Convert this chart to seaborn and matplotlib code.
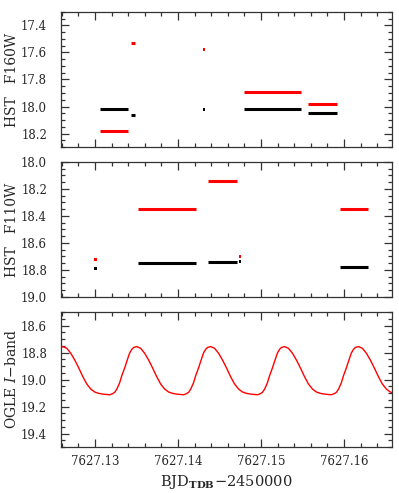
import numpy as np
import pandas as pd
import matplotlib
matplotlib.use("Agg")
import matplotlib.pyplot as plt
import seaborn as sns
from matplotlib.ticker import MultipleLocator, FormatStrFormatter

sns.set_theme(style="ticks")
plt.rcParams["font.family"] = ["DejaVu Serif"]
plt.rcParams["mathtext.fontset"] = "dejavuserif"

BASE = 7627.0  # times below are BJD_TDB - 2457627

# HST F160W exposures: start / end time, black and red magnitudes
f160_start = [0.13060, 0.13434, 0.14313, 0.14799, 0.15570]
f160_end = [0.13401, 0.13486, 0.14313, 0.15486, 0.15912]
f160_black = [18.02, 18.06, 18.025, 18.02, 18.05]
f160_red = [18.18, 17.53, 17.58, 17.89, 17.98]

# HST F110W exposures
f110_start = [0.13008, 0.13522, 0.14365, 0.14747, 0.15952]
f110_end = [0.13008, 0.14213, 0.14707, 0.14747, 0.16293]
f110_black = [18.79, 18.745, 18.74, 18.74, 18.78]
f110_red = [18.72, 18.35, 18.14, 18.70, 18.35]

# OGLE I-band light curve
ogle_dt = [
    0.125264, 0.125529, 0.125770,
    0.126120, 0.126602, 0.127084, 0.127566, 0.128048, 0.128530, 0.129012, 0.129493,
    0.129975, 0.130457, 0.130939, 0.131421, 0.131783, 0.132144, 0.132385, 0.132626,
    0.132963, 0.133228, 0.133566, 0.133831, 0.134168, 0.134433, 0.134674,
    0.135020, 0.135502, 0.135984, 0.136466, 0.136948, 0.137430, 0.137912, 0.138393,
    0.138875, 0.139357, 0.139839, 0.140321, 0.140683, 0.141044, 0.141285, 0.141526,
    0.141863, 0.142128, 0.142466, 0.142731, 0.143068, 0.143333, 0.143574,
    0.143924, 0.144406, 0.144888, 0.145370, 0.145852, 0.146334, 0.146816, 0.147297,
    0.147779, 0.148261, 0.148743, 0.149225, 0.149587, 0.149948, 0.150189, 0.150430,
    0.150767, 0.151032, 0.151370, 0.151635, 0.151972, 0.152237, 0.152478,
    0.152828, 0.153310, 0.153792, 0.154274, 0.154756, 0.155238, 0.155720, 0.156201,
    0.156683, 0.157165, 0.157647, 0.158129, 0.158491, 0.158852, 0.159093, 0.159334,
    0.159671, 0.159936, 0.160274, 0.160539, 0.160876, 0.161141, 0.161382,
    0.161732, 0.162214, 0.162696, 0.163178, 0.163660, 0.164142, 0.164624, 0.165105,
    0.165587, 0.166069,
]
ogle_mag = [
    18.804, 18.776, 18.762,
    18.756, 18.769, 18.806, 18.857, 18.916, 18.979, 19.034, 19.071,
    19.093, 19.103, 19.108, 19.111, 19.113, 19.104, 19.094, 19.071,
    19.025, 18.971, 18.915, 18.865, 18.804, 18.776, 18.762,
    18.756, 18.769, 18.806, 18.857, 18.916, 18.979, 19.034, 19.071,
    19.093, 19.103, 19.108, 19.111, 19.113, 19.104, 19.094, 19.071,
    19.025, 18.971, 18.915, 18.865, 18.804, 18.776, 18.762,
    18.756, 18.769, 18.806, 18.857, 18.916, 18.979, 19.034, 19.071,
    19.093, 19.103, 19.108, 19.111, 19.113, 19.104, 19.094, 19.071,
    19.025, 18.971, 18.915, 18.865, 18.804, 18.776, 18.762,
    18.756, 18.769, 18.806, 18.857, 18.916, 18.979, 19.034, 19.071,
    19.093, 19.103, 19.108, 19.111, 19.113, 19.104, 19.094, 19.071,
    19.025, 18.971, 18.915, 18.865, 18.804, 18.776, 18.762,
    18.756, 18.769, 18.806, 18.857, 18.916, 18.979, 19.034, 19.071,
    19.093, 19.103,
]

COLOURS = {"black": "black", "red": "red"}
XLIM = (BASE + 0.12590, BASE + 0.16578)


def seg_frame(start, end, black, red):
    rows = []
    for i, (s, e, b, r) in enumerate(zip(start, end, black, red)):
        for col, val in (("black", b), ("red", r)):
            for t in (s, e):
                rows.append({"t": BASE + t, "mag": val, "seg": f"{col}{i}",
                             "colour": col, "dot": s == e})
    return pd.DataFrame(rows)


def style_axis(ax, ylim, show_x):
    ax.set_xlim(*XLIM)
    ax.set_ylim(*ylim)
    ax.xaxis.set_major_locator(MultipleLocator(0.01))
    ax.xaxis.set_minor_locator(MultipleLocator(0.002))
    ax.xaxis.set_major_formatter(FormatStrFormatter("%.2f"))
    ax.yaxis.set_major_locator(MultipleLocator(0.2))
    ax.yaxis.set_minor_locator(MultipleLocator(0.05))
    ax.yaxis.set_major_formatter(FormatStrFormatter("%.1f"))
    ax.tick_params(which="both", direction="in", top=True, right=True,
                   color="#333333", width=0.9, labelsize=8.5)
    ax.tick_params(which="major", length=5.5)
    ax.tick_params(which="minor", length=2.8)
    ax.tick_params(axis="y", pad=10)
    ax.tick_params(axis="x", pad=6, labelbottom=show_x)
    for sp in ax.spines.values():
        sp.set_linewidth(0.9)
        sp.set_color("#333333")
    ax.set_xlabel("")
    ax.yaxis.set_label_coords(-0.128, 0.5)


def draw_hst(ax, df):
    lines = df[~df["dot"]]
    sns.lineplot(data=lines, x="t", y="mag", units="seg", hue="colour",
                 palette=COLOURS, estimator=None, legend=False, ax=ax,
                 linewidth=2.2, solid_capstyle="butt")
    dots = df[df["dot"]].drop_duplicates("seg")
    sns.scatterplot(data=dots, x="t", y="mag", hue="colour", palette=COLOURS,
                    marker="s", s=4, linewidth=0, legend=False, ax=ax)


fig = plt.figure(figsize=(3.99, 4.93), dpi=100)
ax1 = fig.add_axes([0.1529, 0.7018, 0.8296, 0.2739])
ax2 = fig.add_axes([0.1529, 0.3976, 0.8296, 0.2738])
ax3 = fig.add_axes([0.1529, 0.0933, 0.8296, 0.2738])

draw_hst(ax1, seg_frame(f160_start, f160_end, f160_black, f160_red))
style_axis(ax1, (18.3, 17.3), False)
ax1.set_ylabel("HST   F160W", fontsize=10)

draw_hst(ax2, seg_frame(f110_start, f110_end, f110_black, f110_red))
style_axis(ax2, (19.0, 18.0), False)
ax2.set_ylabel("HST   F110W", fontsize=10)

ogle = pd.DataFrame({"t": [BASE + v for v in ogle_dt], "mag": ogle_mag})
sns.lineplot(data=ogle, x="t", y="mag", color="red", linewidth=1.0,
             estimator=None, sort=False, ax=ax3)
style_axis(ax3, (19.5, 18.5), True)
ax3.set_ylabel("OGLE $I$\u2212band", fontsize=10)
ax3.set_xlabel(r"BJD$_{\mathbf{TDB}}$" + "\u22122450000", fontsize=10.5, labelpad=3)

fig.savefig("out.png", dpi=100)
